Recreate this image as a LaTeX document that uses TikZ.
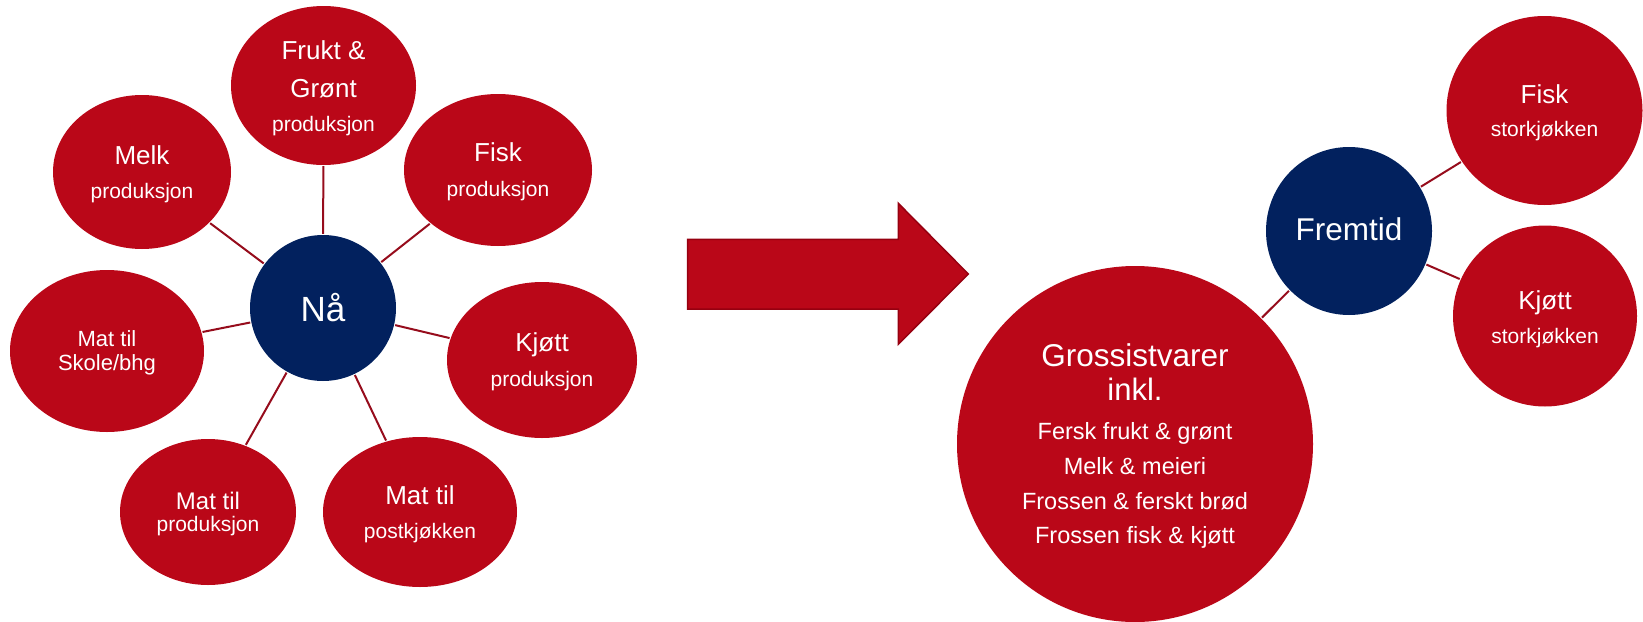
\documentclass[tikz,border=0pt]{standalone}
\usepackage{fontspec}
\setmainfont{Liberation Sans}
\usetikzlibrary{shapes.geometric}
\definecolor{bubred}{RGB}{186,7,24}
\definecolor{navy}{RGB}{2,33,94}
\definecolor{linkred}{RGB}{150,12,28}
\definecolor{arrowedge}{RGB}{150,0,16}
\newcommand{\fs}[1]{\fontsize{#1}{#1}\selectfont}
\begin{document}
\begin{tikzpicture}[x=1pt,y=-1pt,
  bub/.style={ellipse, fill=bubred, draw=none, inner sep=0pt},
  hub/.style={ellipse, fill=navy, draw=none, inner sep=0pt},
  link/.style={draw=linkred, line width=2pt, shorten <=1pt, shorten >=1pt},
  txt/.style={text=white, anchor=base, inner sep=0pt, outer sep=0pt},
  big/.style={txt, font=\fs{26}},
  small/.style={txt, font=\fs{21}}
]
\useasboundingbox (0,0) rectangle (1643,621);

% ---- left cluster ----
\node[hub, minimum width=146pt, minimum height=146pt] (naa) at (323,308) {};
\node[bub, minimum width=185pt, minimum height=159pt] (frukt) at (323.5,85.5) {};
\node[bub, minimum width=178pt, minimum height=154pt] (melk) at (142,172) {};
\node[bub, minimum width=188pt, minimum height=152pt] (fisk) at (498,170) {};
\node[bub, minimum width=194pt, minimum height=162pt] (skole) at (107,351) {};
\node[bub, minimum width=190pt, minimum height=156pt] (kjott) at (542,360) {};
\node[bub, minimum width=176pt, minimum height=146pt] (matprod) at (208,512) {};
\node[bub, minimum width=194pt, minimum height=150pt] (postkj) at (420,512) {};

\foreach \n in {frukt,melk,fisk,skole,kjott,matprod,postkj}
  \draw[link] (\n) -- (naa);

\node[txt, font=\fs{35}] (naa-t) at (323,321.5) {Nå};
\node[big] (frukt-t1) at (323.5,59.3) {Frukt \&};
\node[big] (frukt-t2) at (323.5,97.3) {Grønt};
\node[small] (frukt-t3) at (323.5,131.7) {produksjon};
\node[big] (melk-t1) at (142,164) {Melk};
\node[small] (melk-t2) at (142,198) {produksjon};
\node[big] (fisk-t1) at (498,161.7) {Fisk};
\node[small] (fisk-t2) at (498,196.7) {produksjon};
\node[txt, font=\fs{22}] (skole-t1) at (107,346.7) {Mat til};
\node[txt, font=\fs{22}] (skole-t2) at (107,370.7) {Skole/bhg};
\node[big] (kjott-t1) at (542,351.7) {Kjøtt};
\node[small] (kjott-t2) at (542,386.7) {produksjon};
\node[txt, font=\fs{24}] (matprod-t1) at (208,509.3) {Mat til};
\node[small] (matprod-t2) at (208,531.7) {produksjon};
\node[big] (postkj-t1) at (420,504) {Mat til};
\node[small] (postkj-t2) at (420,538.3) {postkjøkken};

% ---- arrow ----
\filldraw[fill=bubred, draw=arrowedge, line width=1.5pt, line join=miter]
  (687.7,239.3) -- (898.3,239.3) -- (898.3,203.3) -- (968.3,274) --
  (898.3,344.3) -- (898.3,309) -- (687.7,309) -- cycle;

% ---- right cluster ----
\node[hub, minimum width=166pt, minimum height=168pt] (fremtid) at (1349,231) {};
\node[bub, minimum width=356pt, minimum height=356pt] (gross) at (1135,444) {};
\node[bub, minimum width=196pt, minimum height=189pt] (fiskst) at (1544.5,110.5) {};
\node[bub, minimum width=184pt, minimum height=181pt] (kjottst) at (1545,316) {};

\draw[link] (gross) -- (fremtid);
\draw[link] (fremtid) -- (fiskst);
\draw[link] (fremtid) -- (kjottst);

\node[txt, font=\fs{31.5}] (fremtid-t) at (1349,240.7) {Fremtid};
\node[big] (fiskst-t1) at (1544.5,103.3) {Fisk};
\node[small] (fiskst-t2) at (1544.5,136.7) {storkjøkken};
\node[big] (kjottst-t1) at (1545,309.3) {Kjøtt};
\node[small] (kjottst-t2) at (1545,343.3) {storkjøkken};

\node[txt, font=\fs{31.5}] (gross-t1) at (1135,366.7) {Grossistvarer};
\node[txt, font=\fs{31}] (gross-t2) at (1135,400) {inkl.};
\node[txt, font=\fs{23.5}] (gross-t3) at (1135,439.3) {Fersk frukt \& grønt};
\node[txt, font=\fs{23.5}] (gross-t4) at (1135,474) {Melk \& meieri};
\node[txt, font=\fs{23.5}] (gross-t5) at (1135,509.3) {Frossen \& ferskt brød};
\node[txt, font=\fs{23.5}] (gross-t6) at (1135,543.3) {Frossen fisk \& kjøtt};
\end{tikzpicture}
\end{document}
